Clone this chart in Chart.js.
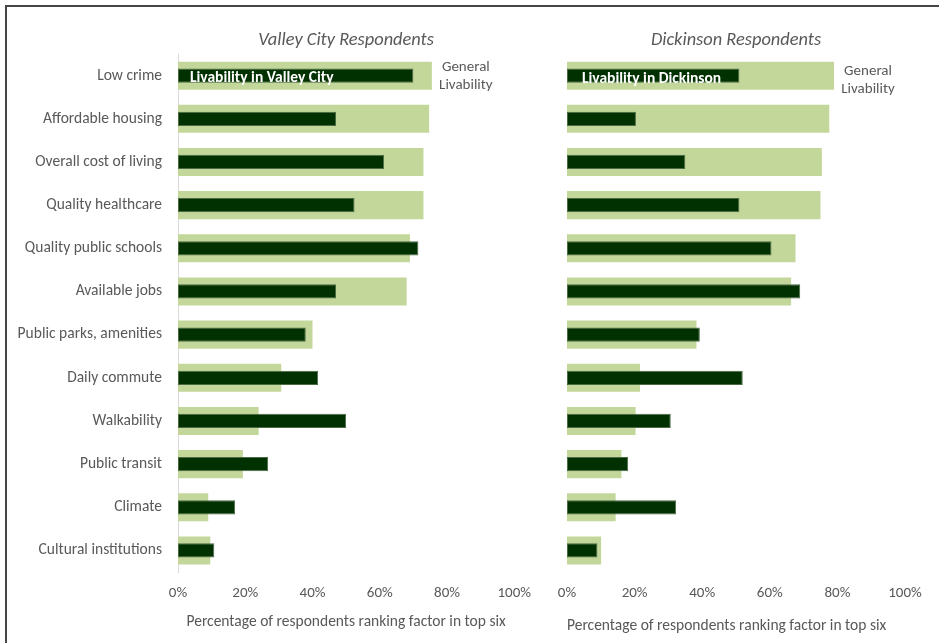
<!DOCTYPE html>
<html>
<head>
<meta charset="utf-8">
<script src="https://cdn.jsdelivr.net/npm/chart.js@4.4.1/dist/chart.umd.min.js"></script>
<style>
  body { margin: 0; background: #fff; }
  #wrap { position: relative; width: 939px; height: 643px; overflow: hidden; }
  #frame { position: absolute; left: 5px; top: 5px; width: 940px; height: 645px;
           border-top: 2px solid #454545; border-left: 2px solid #454545; }
  #left { position: absolute; left: 0; top: 0; }
  #right { position: absolute; left: 530px; top: 0; }
</style>
</head>
<body>
<div id="wrap">
  <div id="frame"></div>
  <canvas id="left" width="543" height="643"></canvas>
  <canvas id="right" width="409" height="643"></canvas>
</div>
<script>
const FONT = "Carlito, Calibri, Lato, sans-serif";

const categories = ['Low crime', 'Affordable housing', 'Overall cost of living', 'Quality healthcare',
  'Quality public schools', 'Available jobs', 'Public parks, amenities', 'Daily commute',
  'Walkability', 'Public transit', 'Climate', 'Cultural institutions'];

// general livability (light bars) and local livability (dark bars), in percent
const valleyGeneral = [75.5, 74.7, 73, 73, 69, 68, 40, 30.7, 24, 19.3, 9, 9.6];
const valleyLocal = [70, 47, 61.3, 52.5, 71.5, 47, 38, 41.7, 50, 26.8, 17, 10.8];
const dickGeneral = [79, 77.6, 75.4, 75, 67.6, 66.3, 38.3, 21.6, 20.3, 16.1, 14.4, 10.1];
const dickLocal = [51, 20.4, 35, 51, 60.5, 69, 39.3, 52, 30.7, 18.1, 32.3, 9];

const xTicks = [0, 20, 40, 60, 80, 100];

Chart.defaults.font.family = FONT;
Chart.defaults.color = '#595959';

// text notes on the first row
const barNotes = {
  id: 'barNotes',
  afterDatasetsDraw(chart, args, opts) {
    const ctx = chart.ctx;
    const x = chart.scales.x, y = chart.scales.y;
    const yc = y.getPixelForValue(0);
    ctx.save();
    ctx.textBaseline = 'middle';
    ctx.font = 'bold 15.5px ' + FONT;
    ctx.fillStyle = '#ffffff';
    ctx.textAlign = 'left';
    ctx.fillText(opts.inner, x.getPixelForValue(0) + opts.innerDx, yc + opts.innerDy);
    ctx.font = '15px ' + FONT;
    ctx.fillStyle = '#595959';
    ctx.textAlign = 'center';
    const gx = x.getPixelForValue(opts.general) + 34;
    ctx.fillText('General', gx, yc + opts.noteDy - 9);
    ctx.fillText('Livability', gx, yc + opts.noteDy + 9);
    ctx.restore();
  }
};

function makeChart(id, title, general, local, showY, yWidth, pad, note, xTitlePad, xTitleAlign) {
  return new Chart(document.getElementById(id), {
    type: 'bar',
    data: {
      labels: categories,
      datasets: [
        {
          label: 'Local',
          data: local,
          backgroundColor: '#013101',
          borderColor: '#4b6b45',
          borderWidth: 1,
          borderSkipped: false,
          grouped: false,
          order: 0,
          categoryPercentage: 1,
          barPercentage: 0.33
        },
        {
          label: 'General',
          data: general,
          backgroundColor: '#c4d79b',
          borderWidth: 0,
          grouped: false,
          order: 1,
          categoryPercentage: 1,
          barPercentage: 0.65
        }
      ]
    },
    options: {
      indexAxis: 'y',
      responsive: false,
      animation: false,
      layout: { padding: pad },
      plugins: {
        legend: { display: false },
        tooltip: { enabled: false },
        title: {
          display: true,
          text: title,
          fullSize: false,
          color: '#595959',
          font: { size: 18.4, style: 'italic', weight: 'normal' },
          padding: { top: 29, bottom: 3 }
        },
        barNotes: note
      },
      scales: {
        x: {
          min: 0, max: 100,
          afterBuildTicks: s => { s.ticks = xTicks.map(v => ({ value: v })); },
          ticks: { callback: v => v + '%', font: { size: 15 }, padding: 12, maxRotation: 0 },
          grid: { display: false, drawTicks: false },
          border: { display: false },
          title: {
            display: true,
            text: 'Percentage of respondents ranking factor in top six',
            font: { size: 15.5 },
            align: xTitleAlign,
            padding: { top: 0, bottom: xTitlePad }
          },
          afterFit: s => { s.height = 71; }
        },
        y: {
          display: showY,
          ticks: { font: { size: 15.5 }, padding: 16 },
          grid: { display: false, drawTicks: false },
          border: { display: true, color: '#d9d9d9', width: 1 },
          afterFit: s => { s.width = yWidth; }
        }
      }
    },
    plugins: [barNotes]
  });
}

makeChart('left', 'Valley City Respondents', valleyGeneral, valleyLocal, true, 178,
  { left: 0, right: 0, top: 0, bottom: 0 },
  { inner: 'Livability in Valley City', innerDx: 12, innerDy: 2, general: valleyGeneral[0], noteDy: 1 },
  12, 'center');

makeChart('right', 'Dickinson Respondents', dickGeneral, dickLocal, false, 37,
  { left: 0, right: 34, top: 0, bottom: 0 },
  { inner: 'Livability in Dickinson', innerDx: 15, innerDy: 3, general: dickGeneral[0], noteDy: 5 },
  8, 'start');
</script>
</body>
</html>
